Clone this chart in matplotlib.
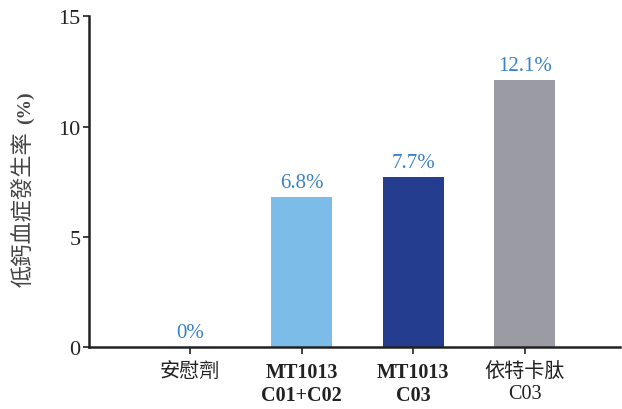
import matplotlib
matplotlib.use("Agg")
import matplotlib.pyplot as plt

categories = ["安慰劑", "MT1013\nC01+C02", "MT1013\nC03", "依特卡肽\nC03"]
rates = [0.0, 6.8, 7.7, 12.1]
value_labels = ["0%", "6.8%", "7.7%", "12.1%"]
bar_colors = [None, "#7bbde8", "#253d8f", "#9b9ba3"]
yticks = [0, 5, 10, 15]

FONTS = ["Liberation Serif", "Noto Sans CJK TC", "DejaVu Sans"]
plt.rcParams["font.family"] = FONTS

W, H = 622, 410
fig = plt.figure(figsize=(W / 100, H / 100), dpi=100)
ax = fig.add_axes([0.143, 0.151, 0.854, 0.807])

x = list(range(len(categories)))
for xi, v, c in zip(x, rates, bar_colors):
    if v > 0:
        ax.bar(xi, v, width=0.545, color=c, zorder=2)

for xi, v, lab in zip(x, rates, value_labels):
    ax.annotate(lab, (xi, v), xytext=(0, 4), textcoords="offset points",
                ha="center", va="bottom", fontsize=15, color="#3a82c2")

ax.set_xlim(-0.909, 3.855)
ax.set_ylim(0, 15)
ax.set_yticks(yticks)
ax.set_xticks(x)
ax.set_xticklabels(categories, fontsize=14.5, linespacing=1.15)
for i, t in enumerate(ax.get_xticklabels()):
    if i in (1, 2):
        t.set_fontweight("bold")
    t.set_color("#222222")
ax.tick_params(axis="y", labelsize=16, length=4, width=1.2, pad=2, colors="#222222")
ax.tick_params(axis="x", length=5, width=1.2, pad=6, colors="#222222")

for s in ["top", "right"]:
    ax.spines[s].set_visible(False)
for s in ["left", "bottom"]:
    ax.spines[s].set_linewidth(1.8)
    ax.spines[s].set_color("#222222")

# y label: CJK part plain, "(%)" bold
fig.text(25 / W, 1 - 287 / H, "低鈣血症發生率", rotation=90, ha="center", va="bottom",
         fontsize=16, color="#444444")
fig.text(25 / W, 1 - 124 / H, "(%)", rotation=90, ha="center", va="bottom",
         fontsize=14, fontweight="bold", color="#444444")

fig.savefig("out.png", dpi=100)
